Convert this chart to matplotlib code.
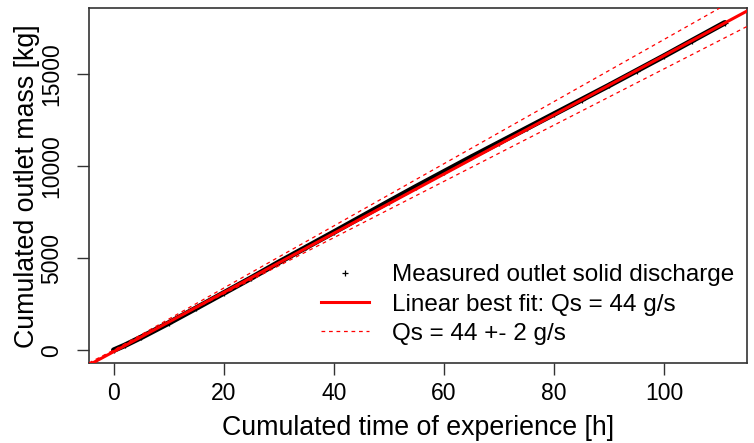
import matplotlib
matplotlib.use('Agg')
import numpy as np
import matplotlib.pyplot as plt

# measured points (time in h, mass in kg)
time_h = [0, 2, 5, 10, 15, 20, 25, 30, 35, 40, 45, 50, 55, 60,
          65, 70, 75, 80, 85, 90, 95, 100, 105, 111]
mass_kg = [0, 260, 700, 1480, 2290, 3110, 3930, 4780, 5600, 6420, 7250, 8080,
           8900, 9700, 10500, 11280, 12060, 12840, 13620, 14400, 15200, 16000,
           16820, 17800]

fit_slope = 161.0      # kg/h
fit_intercept = -80.0
band_slopes = [169.0, 153.0]

x_ticks = [0, 20, 40, 60, 80, 100]
y_ticks = [0, 5000, 10000, 15000]

plt.rcParams['font.family'] = ['Liberation Sans', 'DejaVu Sans']

fig = plt.figure(figsize=(7.54, 4.43), dpi=100)
ax = fig.add_axes([0.118, 0.1795, 0.873, 0.8025])

ax.plot(time_h, mass_kg, color='black', lw=4, solid_capstyle='round', zorder=2)
ax.plot(time_h, mass_kg, '+', color='black', ms=5, mew=0.9, zorder=2,
        label='Measured outlet solid discharge')
ax.axline((0, fit_intercept), slope=fit_slope, color='red', lw=2.2, zorder=3,
          label='Linear best fit: Qs = 44 g/s')
for i, s in enumerate(band_slopes):
    ax.axline((0, 0), slope=s, color='red', lw=0.9, ls=(0, (3, 3)), zorder=3,
              label='Qs = 44 +- 2 g/s' if i == 0 else None)

ax.set_xlim(-4.5, 115.1)
ax.set_ylim(-724, 18611)
ax.set_xticks(x_ticks)
ax.set_yticks(y_ticks)
ax.set_yticklabels([str(v) for v in y_ticks], rotation=90, va='center')
ax.tick_params(labelsize=16.5, length=8.5, width=1, color='#333333', pad=5)
ax.tick_params(axis='y', pad=10)
for sp in ax.spines.values():
    sp.set_color('#333333')
    sp.set_linewidth(1.2)

ax.set_xlabel('Cumulated time of experience [h]', fontsize=19.3, labelpad=7)
ax.set_ylabel('Cumulated outlet mass [kg]', fontsize=19.3, labelpad=0)

ax.legend(loc='lower right', bbox_to_anchor=(0.995, 0.025), frameon=False,
          fontsize=17.5, handlelength=1.95, handletextpad=0.95, labelspacing=0.3,
          borderaxespad=0.2, borderpad=0.2)

fig.savefig('out.png', dpi=100)
